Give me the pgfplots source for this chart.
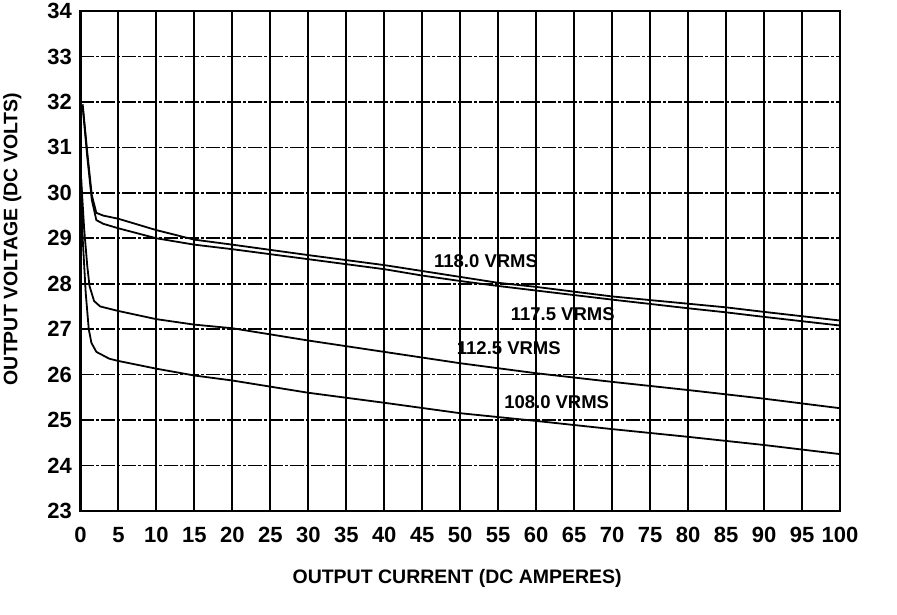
\documentclass[border=0pt]{standalone}
\usepackage{fontspec}
\setmainfont{Liberation Sans}
\usepackage{pgfplots}
\pgfplotsset{compat=1.18}
\begin{document}
\begin{tikzpicture}
\begin{axis}[
  scale only axis, width=760pt, height=500pt,
  xmin=0, xmax=100, ymin=23, ymax=34,
  xtick={0,5,...,100}, ytick={23,24,...,34},
  grid=major,
  major grid style={black, line width=1.8pt},
  y grid style={dash pattern=on 14pt off 2pt on 3pt off 2pt},
  axis line style={line width=2.6pt},
  major tick length=0pt,
  /pgf/number format/assume math mode=true,
  ticklabel style={font=\fontsize{22}{22}\selectfont\bfseries},
  xticklabel style={yshift=-13pt},
  yticklabel style={xshift=-5pt},
  xlabel={OUTPUT CURRENT (DC AMPERES)},
  ylabel={OUTPUT VOLTAGE (DC VOLTS)},
  label style={font=\fontsize{19.5}{19.5}\selectfont\bfseries},
  xlabel style={at={(axis description cs:0.496,-0.136)}, anchor=center},
  ylabel style={at={(axis description cs:-0.0895,0.544)}, anchor=center},
]
\addplot[black, line width=1.8pt, line join=round, no markers] coordinates {(0.3,31.95) (0.9,30.9) (1.5,29.95) (2.1,29.56) (3,29.5) (5,29.43) (10,29.18) (15,28.97) (20,28.86) (30,28.63) (40,28.41) (45,28.28) (50,28.15) (55,28.02) (60,27.93) (70,27.72) (80,27.56) (85,27.48) (90,27.38) (100,27.19)};
\addplot[black, line width=1.8pt, line join=round, no markers] coordinates {(0.3,31.9) (0.9,30.8) (1.5,29.85) (2.1,29.4) (3,29.32) (5,29.22) (10,29.0) (15,28.86) (20,28.76) (30,28.54) (40,28.32) (45,28.18) (50,28.06) (55,27.95) (60,27.85) (70,27.65) (80,27.46) (85,27.37) (90,27.27) (100,27.08)};
\addplot[black, line width=1.8pt, line join=round, no markers] coordinates {(0.1,30.3) (0.5,29.2) (0.9,28.4) (1.2,27.95) (1.8,27.62) (2.6,27.5) (5,27.4) (10,27.22) (15,27.1) (20,27.02) (30,26.75) (40,26.5) (50,26.25) (60,26.03) (70,25.84) (80,25.66) (90,25.47) (100,25.26)};
\addplot[black, line width=1.8pt, line join=round, no markers] coordinates {(0.1,30.3) (0.3,29.0) (0.7,27.8) (1.1,27.0) (1.45,26.7) (2.1,26.5) (3.8,26.35) (5,26.3) (10,26.13) (15,25.98) (20,25.87) (30,25.6) (40,25.38) (50,25.15) (60,24.98) (70,24.8) (80,24.63) (90,24.45) (100,24.25)};
\node[font=\fontsize{18.5}{18.5}\selectfont\bfseries] at (axis cs:53.4,28.5) {118.0 VRMS};
\node[font=\fontsize{18.5}{18.5}\selectfont\bfseries] at (axis cs:63.5,27.32) {117.5 VRMS};
\node[font=\fontsize{18.5}{18.5}\selectfont\bfseries] at (axis cs:56.4,26.59) {112.5 VRMS};
\node[font=\fontsize{18.5}{18.5}\selectfont\bfseries] at (axis cs:62.7,25.39) {108.0 VRMS};
\end{axis}
\path[use as bounding box] (-80pt,-104pt) rectangle (817pt,510pt);
\end{tikzpicture}
\end{document}
